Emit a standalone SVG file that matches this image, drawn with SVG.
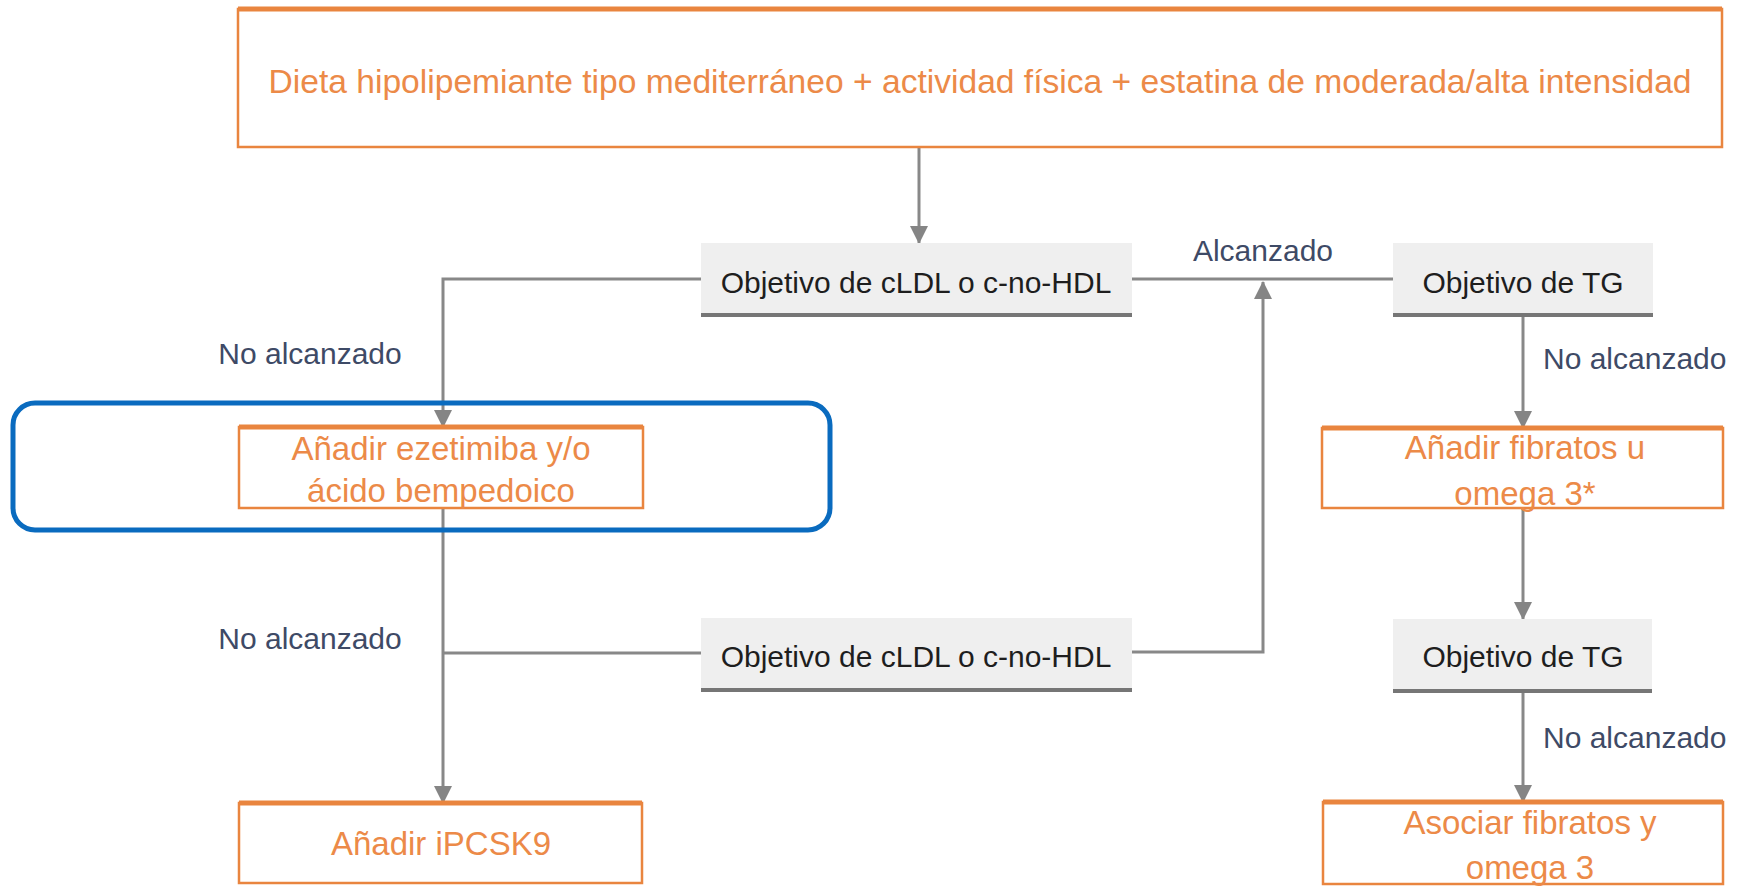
<svg xmlns="http://www.w3.org/2000/svg" width="1742" height="887" viewBox="0 0 1742 887">
  <defs>
    <marker id="arrow" markerUnits="userSpaceOnUse" markerWidth="18" markerHeight="18" viewBox="0 0 18 18" refX="17" refY="9" orient="auto">
      <path d="M0,0 L18,9 L0,18 Z" fill="#858585"/>
    </marker>
    <style>
      .orange-box { fill: #ffffff; stroke: #E9853F; stroke-width: 2.5; }
      .orange-top { stroke: #E9853F; stroke-width: 5; }
      .orange-text { font-family: "Liberation Sans", Arial, sans-serif; font-size: 33px; fill: #EC8A48; text-anchor: middle; }
      .gray-box { fill: #EFEFEF; }
      .gray-base { stroke: #767676; stroke-width: 4; }
      .gray-text { font-family: "Liberation Sans", Arial, sans-serif; font-size: 30px; fill: #1E1E1E; text-anchor: middle; }
      .edge { fill: none; stroke: #888888; stroke-width: 3; }
      .edge-label { font-family: "Liberation Sans", Arial, sans-serif; font-size: 30px; fill: #3E4A66; }
    </style>
  </defs>

  <rect width="1742" height="887" fill="#ffffff"/>

  <!-- connectors -->
  <g id="connectors">
    <path class="edge" d="M919,147 V243" marker-end="url(#arrow)"/>
    <path class="edge" d="M701,279 H443 V427" marker-end="url(#arrow)"/>
    <path class="edge" d="M1132,279 H1393"/>
    <path class="edge" d="M1523,315 V428" marker-end="url(#arrow)"/>
    <path class="edge" d="M1523,508 V619" marker-end="url(#arrow)"/>
    <path class="edge" d="M1523,690 V802" marker-end="url(#arrow)"/>
    <path class="edge" d="M443,508 V803" marker-end="url(#arrow)"/>
    <path class="edge" d="M443,653 H701"/>
    <path class="edge" d="M1132,652 H1263 V282" marker-end="url(#arrow)"/>
    <text class="edge-label" x="1263" y="261" text-anchor="middle">Alcanzado</text>
    <text class="edge-label" x="310" y="364" text-anchor="middle">No alcanzado</text>
    <text class="edge-label" x="310" y="649" text-anchor="middle">No alcanzado</text>
    <text class="edge-label" x="1543" y="369">No alcanzado</text>
    <text class="edge-label" x="1543" y="748">No alcanzado</text>
  </g>

  <!-- start: lifestyle + statin -->
  <g id="n-inicio">
    <rect class="orange-box" x="238" y="9" width="1484" height="138"/>
    <line class="orange-top" x1="238" y1="9" x2="1722" y2="9"/>
    <text class="orange-text" x="980" y="93" font-size="31" textLength="1423" lengthAdjust="spacingAndGlyphs">Dieta hipolipemiante tipo mediterráneo + actividad física + estatina de moderada/alta intensidad</text>
  </g>

  <!-- LDL goal, first check -->
  <g id="n-ldl-1">
    <rect class="gray-box" x="701" y="243" width="431" height="72"/>
    <line class="gray-base" x1="701" y1="315" x2="1132" y2="315"/>
    <text class="gray-text" x="916" y="293">Objetivo de cLDL o c-no-HDL</text>
  </g>

  <!-- TG goal, first check -->
  <g id="n-tg-1">
    <rect class="gray-box" x="1393" y="243" width="260" height="72"/>
    <line class="gray-base" x1="1393" y1="315" x2="1653" y2="315"/>
    <text class="gray-text" x="1523" y="293">Objetivo de TG</text>
  </g>

  <!-- ezetimibe / bempedoic acid -->
  <g id="n-ezetimiba">
    <rect class="orange-box" x="239" y="427" width="404" height="81"/>
    <line class="orange-top" x1="239" y1="427" x2="643" y2="427"/>
    <text class="orange-text" x="441" y="460">Añadir ezetimiba y/o</text>
    <text class="orange-text" x="441" y="502">ácido bempedoico</text>
  </g>

  <!-- fibrates or omega 3 -->
  <g id="n-fibratos">
    <rect class="orange-box" x="1322" y="428" width="401" height="80"/>
    <line class="orange-top" x1="1322" y1="428" x2="1723" y2="428"/>
    <text class="orange-text" x="1525" y="459">Añadir fibratos u</text>
    <text class="orange-text" x="1525" y="505">omega 3*</text>
  </g>

  <!-- LDL goal, second check -->
  <g id="n-ldl-2">
    <rect class="gray-box" x="701" y="618" width="431" height="72"/>
    <line class="gray-base" x1="701" y1="690" x2="1132" y2="690"/>
    <text class="gray-text" x="916" y="667">Objetivo de cLDL o c-no-HDL</text>
  </g>

  <!-- TG goal, second check -->
  <g id="n-tg-2">
    <rect class="gray-box" x="1393" y="619" width="259" height="72"/>
    <line class="gray-base" x1="1393" y1="691" x2="1652" y2="691"/>
    <text class="gray-text" x="1523" y="667">Objetivo de TG</text>
  </g>

  <!-- PCSK9 inhibitor -->
  <g id="n-ipcsk9">
    <rect class="orange-box" x="239" y="803" width="403" height="80"/>
    <line class="orange-top" x1="239" y1="803" x2="642" y2="803"/>
    <text class="orange-text" x="441" y="855">Añadir iPCSK9</text>
  </g>

  <!-- fibrates + omega 3 -->
  <g id="n-asociar">
    <rect class="orange-box" x="1323" y="802" width="400" height="82"/>
    <line class="orange-top" x1="1323" y1="802" x2="1723" y2="802"/>
    <text class="orange-text" x="1530" y="834">Asociar fibratos y</text>
    <text class="orange-text" x="1530" y="879">omega 3</text>
  </g>

  <!-- highlight around the ezetimibe step -->
  <g id="highlight">
    <rect x="13" y="403" width="817" height="127" rx="22" ry="22" fill="none" stroke="#0A6BBF" stroke-width="5"/>
  </g>
</svg>
